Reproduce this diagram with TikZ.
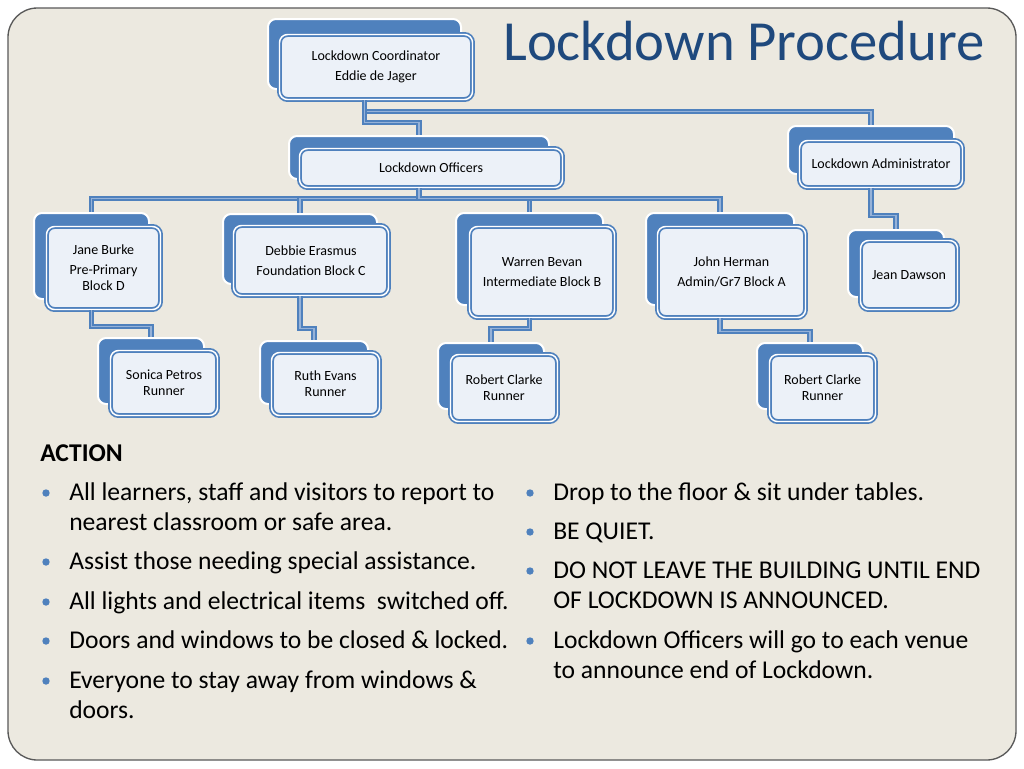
\documentclass[tikz,border=0pt]{standalone}
\usepackage{fontspec}
\setmainfont{Carlito}
\usepackage{tikz}
\definecolor{boxblue}{RGB}{79,129,189}
\definecolor{linkblue}{RGB}{150,178,216}
\definecolor{frontfill}{RGB}{236,241,248}
\definecolor{slidebg}{RGB}{236,233,224}
\definecolor{titleblue}{RGB}{31,73,125}

\begin{document}
\begin{tikzpicture}[x=0.75pt, y=-0.75pt,
    backbox/.style 2 args={fill=boxblue, draw=white, line width=1.5pt,
                  rounded corners=6pt, inner sep=0pt,
                  minimum width=#1*0.75pt, minimum height=#2*0.75pt},
    frontbox/.style 2 args={fill=frontfill, draw=boxblue, line width=1.3pt,
                  double=white, double distance=1.1pt, rounded corners=6pt,
                  inner sep=0pt, align=center, font=\fontsize{10.5}{12}\selectfont,
                  minimum width=#1*0.75pt, minimum height=#2*0.75pt},
    link/.style={draw=boxblue, line width=1.4pt, double=linkblue,
                 double distance=1.2pt},
    actionitem/.style={anchor=base west, align=left, inner sep=0pt,
                 font=\fontsize{19.2}{22.5}\selectfont},
]
    \useasboundingbox (0,0) rectangle (1024,768);
    \fill[white] (0,0) rectangle (1024,768);
    \draw[fill=slidebg, draw=black!65, line width=1pt, rounded corners=22pt]
        (8,8) rectangle (1016,760);

    \node[anchor=base west, inner sep=0pt, text=titleblue,
          font=\fontsize{42.5}{50}\selectfont] (title) at (503,60) {Lockdown Procedure};

    % org chart
    \node[backbox={193}{70}] (coord-b) at (364.5,54) {};
    \node[frontbox={193}{65}] (coord) at (376,67)
        {Lockdown Coordinator\\[3pt] Eddie de Jager};
    \node[backbox={260}{43}] (officers-b) at (419,157.5) {};
    \node[frontbox={263}{39}] (officers) at (431,168) {Lockdown Officers};
    \node[backbox={166}{48}] (admin-b) at (871,150) {};
    \node[frontbox={163}{47}] (admin) at (881,164) {Lockdown Administrator};

    \node[backbox={115}{86}] (jane-b) at (91.5,256) {};
    \node[frontbox={114}{83}] (jane) at (103.5,268)
        {Jane Burke\\[3pt] Pre-Primary\\ Block D};
    \node[backbox={154}{70}] (debbie-b) at (300,249) {};
    \node[frontbox={155}{70}] (debbie) at (311,260.5)
        {Debbie Erasmus\\[3pt] Foundation Block C};
    \node[backbox={147}{92}] (warren-b) at (529.5,259) {};
    \node[frontbox={145}{91}] (warren) at (542,272)
        {Warren Bevan\\[3pt] Intermediate Block B};
    \node[backbox={148}{92}] (john-b) at (720,259) {};
    \node[frontbox={148}{91}] (john) at (731.5,272)
        {John Herman\\[3pt] Admin/Gr7 Block A};
    \node[backbox={96}{67}] (jean-b) at (896,263.5) {};
    \node[frontbox={97}{69}] (jean) at (909,275) {Jean Dawson};

    \node[backbox={106}{66}] (sonica-b) at (151,371) {};
    \node[frontbox={107}{65}] (sonica) at (164,383) {Sonica Petros\\ Runner};
    \node[backbox={108}{63}] (ruth-b) at (314,372.5) {};
    \node[frontbox={108}{63}] (ruth) at (325.5,384) {Ruth Evans\\ Runner};
    \node[backbox={106}{66}] (robert1-b) at (491,376) {};
    \node[frontbox={107}{67}] (robert1) at (504,388) {Robert Clarke\\ Runner};
    \node[backbox={106}{66}] (robert2-b) at (810,376) {};
    \node[frontbox={106}{67}] (robert2) at (822.5,388) {Robert Clarke\\ Runner};

    \draw[link] (coord-b.south |- coord.south) -- ++(0,11) -| (admin-b.north);
    \draw[link] (coord-b.south |- coord.south) -- ++(0,22) -| (officers-b.north);
    \foreach \n in {jane,debbie,warren,john}
        \draw[link] (officers-b.south |- officers.south) -- ++(0,10) -| (\n-b.north);
    \draw[link] (jane-b.south |- jane.south) -- ++(0,16) -| (sonica-b.north);
    \draw[link] (debbie-b.south |- debbie.south) -- ++(0,32) -| (ruth-b.north);
    \draw[link] (warren-b.south |- warren.south) -- ++(0,10) -| (robert1-b.north);
    \draw[link] (john-b.south |- john.south) -- ++(0,13) -| (robert2-b.north);
    \draw[link] (admin-b.south |- admin.south) -- ++(0,27) -| (jean-b.north);

    % action list (base = last line)
    \node[actionitem, font=\fontsize{19.2}{22.5}\selectfont\bfseries] (action) at (40,461) {ACTION};
    \node[actionitem] (l1) at (69,530)
        {All learners, staff and visitors to report to\\nearest classroom or safe area.};
    \node[actionitem] (l2) at (69,569) {Assist those needing special assistance.};
    \node[actionitem] (l3) at (69,609) {All lights and electrical items\ \ switched off.};
    \node[actionitem] (l4) at (69,648) {Doors and windows to be closed \& locked.};
    \node[actionitem] (l5) at (69,718) {Everyone to stay away from windows \&\\doors.};
    \node[actionitem] (r1) at (553,500) {Drop to the floor \& sit under tables.};
    \node[actionitem] (r2) at (553,539) {BE QUIET.};
    \node[actionitem] (r3) at (553,608)
        {DO NOT LEAVE THE BUILDING UNTIL END\\OF LOCKDOWN IS ANNOUNCED.};
    \node[actionitem] (r4) at (553,678)
        {Lockdown Officers will go to each venue\\to announce end of Lockdown.};
    \foreach \y in {493,562,602,641,681}
        \fill[boxblue] (46,\y) circle (3.7);
    \foreach \y in {493,532,571,641}
        \fill[boxblue] (530,\y) circle (3.7);
\end{tikzpicture}
\end{document}
